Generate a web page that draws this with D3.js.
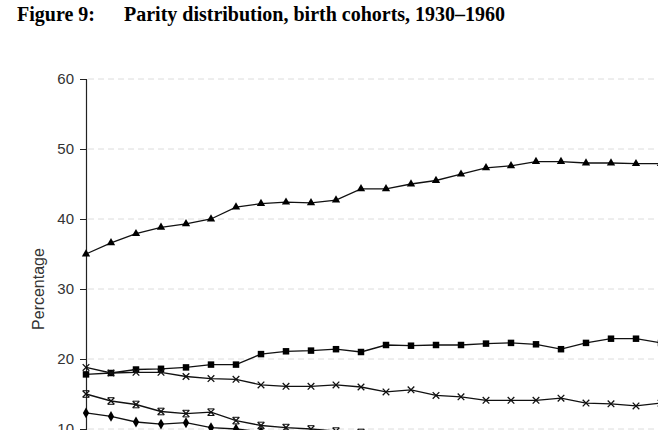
<!DOCTYPE html>
<html>
<head>
<meta charset="utf-8">
<script src="https://cdn.jsdelivr.net/npm/d3@7"></script>
<style>
  body { margin: 0; background: #fff; }
  svg { display: block; }
</style>
</head>
<body>
<div id="chart"></div>
<script>
// Birth cohorts on the x axis
const years = d3.range(1930, 1961);

// Parity shares (%) per cohort
const parityTriangle = [35.0, 36.6, 37.9, 38.8, 39.3, 40.0, 41.7, 42.2, 42.4, 42.3, 42.7, 44.3, 44.3, 45.0, 45.5, 46.4,
  47.3, 47.6, 48.2, 48.2, 48.0, 48.0, 47.9, 47.9, 47.6, 47.2, 46.8, 46.5, 46.2, 45.9, 45.5];
const paritySquare = [17.8, 18.0, 18.5, 18.6, 18.8, 19.2, 19.2, 20.7, 21.1, 21.2, 21.4, 21.0, 22.0, 21.9, 22.0, 22.0,
  22.2, 22.3, 22.1, 21.4, 22.3, 22.9, 22.9, 22.3, 22.6, 23.0, 23.4, 23.8, 24.2, 24.5, 24.8];
const parityCross = [18.8, 18.0, 18.1, 18.1, 17.5, 17.2, 17.1, 16.3, 16.1, 16.1, 16.3, 16.0, 15.3, 15.6, 14.8, 14.6,
  14.1, 14.1, 14.1, 14.4, 13.7, 13.6, 13.3, 13.7, 13.9, 14.2, 14.4, 14.5, 14.6, 14.7, 14.8];
const parityStar = [15.0, 14.0, 13.5, 12.5, 12.2, 12.4, 11.2, 10.5, 10.2, 10.0, 9.7, 9.5, 9.2, 9.0, 8.8, 8.6,
  8.4, 8.3, 8.2, 8.0, 7.9, 7.8, 7.8, 7.7, 7.7, 7.6, 7.6, 7.5, 7.5, 7.5, 7.5];
const parityDiamond = [12.3, 11.8, 11.0, 10.7, 10.9, 10.2, 10.0, 9.6, 9.3, 9.0, 8.8, 8.6, 8.3, 8.1, 7.9, 7.7,
  7.5, 7.4, 7.3, 7.2, 7.1, 7.0, 7.0, 6.9, 6.9, 6.8, 6.8, 6.7, 6.7, 6.6, 6.6];

const yTicks = [0, 10, 20, 30, 40, 50, 60];

const width = 658, height = 430;
const margin = { top: 79, left: 86 };
const innerHeight = 420;   // 60 -> 0
const step = 25;           // px per cohort

const svg = d3.select('#chart')
  .append('svg')
  .attr('width', width)
  .attr('height', height)
  .style('font-family', '"Liberation Sans", Arial, sans-serif');

// Title
svg.append('text')
  .attr('x', 17).attr('y', 21)
  .style('font-family', '"Liberation Serif", "Times New Roman", serif')
  .style('font-weight', 'bold')
  .style('font-size', '20px')
  .text('Figure 9:');
svg.append('text')
  .attr('x', 124).attr('y', 21)
  .style('font-family', '"Liberation Serif", "Times New Roman", serif')
  .style('font-weight', 'bold')
  .style('font-size', '20px')
  .text('Parity distribution, birth cohorts, 1930–1960');

const g = svg.append('g')
  .attr('transform', `translate(${margin.left},${margin.top})`);

const xScale = d3.scaleLinear()
  .domain([years[0], years[years.length - 1]])
  .range([0, step * (years.length - 1)]);

const yScale = d3.scaleLinear()
  .domain([0, 60])
  .range([innerHeight, 0]);

// Dashed gridlines
g.selectAll('.grid')
  .data(yTicks.filter(d => d > 0))
  .enter().append('line')
  .attr('class', 'grid')
  .attr('x1', 2)
  .attr('x2', xScale.range()[1] + 10)
  .attr('y1', d => yScale(d))
  .attr('y2', d => yScale(d))
  .attr('stroke', '#dcdcdc')
  .attr('stroke-dasharray', '6,4');

// Y axis
const yAxis = d3.axisLeft(yScale)
  .tickValues(yTicks)
  .tickSize(6)
  .tickPadding(6);
const yg = g.append('g').call(yAxis);
yg.select('.domain').attr('stroke', '#222').attr('stroke-width', 1.2);
yg.selectAll('.tick line').attr('stroke', '#222');
yg.selectAll('.tick text')
  .style('font-size', '15px')
  .attr('fill', '#333');

// Y label
g.append('text')
  .attr('transform', 'rotate(-90)')
  .attr('x', -innerHeight / 2)
  .attr('y', -42)
  .attr('text-anchor', 'middle')
  .style('font-size', '16px')
  .attr('fill', '#333')
  .text('Percentage');

const line = d3.line()
  .x((d, i) => xScale(years[i]))
  .y(d => yScale(d));

const series = [
  { values: parityTriangle, marker: 'triangle' },
  { values: paritySquare, marker: 'square' },
  { values: parityCross, marker: 'cross' },
  { values: parityStar, marker: 'star' },
  { values: parityDiamond, marker: 'diamond' }
];

const triangle = d3.symbol().type(d3.symbolTriangle).size(30)();
const square = d3.symbol().type(d3.symbolSquare).size(42)();
const diamond = d3.symbol().type(d3.symbolDiamond).size(34)();

series.forEach(s => {
  g.append('path')
    .datum(s.values)
    .attr('d', line)
    .attr('fill', 'none')
    .attr('stroke', '#111')
    .attr('stroke-width', 1.3);

  const pts = g.selectAll(null)
    .data(s.values)
    .enter().append('g')
    .attr('transform', (d, i) => `translate(${xScale(years[i])},${yScale(d)})`);

  if (s.marker === 'triangle') {
    pts.append('path').attr('d', triangle).attr('fill', '#000');
  } else if (s.marker === 'square') {
    pts.append('path').attr('d', square).attr('fill', '#000');
  } else if (s.marker === 'diamond') {
    pts.append('path').attr('d', diamond).attr('fill', '#000');
  } else {
    const r = 3.3;
    pts.append('path')
      .attr('d', `M${-r},${-r}L${r},${r}M${-r},${r}L${r},${-r}`)
      .attr('stroke', '#111').attr('stroke-width', 1.3).attr('fill', 'none');
    if (s.marker === 'star') {
      pts.append('path')
        .attr('d', `M${-r},${-r}H${r}M${-r},${r}H${r}`)
        .attr('stroke', '#111').attr('stroke-width', 1).attr('fill', 'none');
    }
  }
});
</script>
</body>
</html>
